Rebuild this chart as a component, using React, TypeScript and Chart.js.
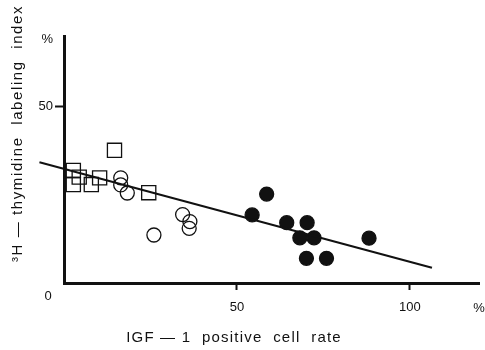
import React, { useEffect, useRef } from 'react';
import { Chart, registerables } from 'chart.js';

Chart.register(...registerables);

// Tick labels
const xTickValues = [50, 100];
const xTickLabels = ['50', '100'];
const xUnitValue = 120;
const xUnitLabel = '%';
const yTickValues = [50, 69];
const yTickLabels = ['50', '%'];
const originLabel = '0';
const xTitle = 'IGF — 1  positive  cell  rate';
const yTitle = '³H — thymidine  labeling  index';

// Open squares
const squareX = [2.7, 4.4, 2.7, 7.9, 10.3, 14.6, 24.5];
const squareY = [31.9, 30.0, 27.9, 27.9, 29.8, 37.6, 25.6];

// Open circles
const openCircleX = [16.4, 16.4, 18.3, 26.0, 34.3, 36.4, 36.2];
const openCircleY = [29.8, 27.8, 25.5, 13.6, 19.4, 17.4, 15.5];

// Filled circles
const filledCircleX = [58.6, 54.4, 64.4, 70.3, 68.2, 72.3, 70.1, 75.9, 88.2];
const filledCircleY = [25.2, 19.3, 17.1, 17.1, 12.8, 12.8, 7.0, 7.0, 12.7];

// Regression line end points
const lineX = [-7.1, 106.4];
const lineY = [34.2, 4.3];

const FONT = '"Liberation Sans", Arial, sans-serif';
const INK = '#111';

const toPoints = (xs: number[], ys: number[]) => xs.map((x, i) => ({ x, y: ys[i] }));

const textPlugin = {
  id: 'extraTexts',
  afterDraw(chart: any) {
    const { ctx, chartArea } = chart;
    const xScale = chart.scales.x;
    ctx.save();
    ctx.fillStyle = INK;
    ctx.textAlign = 'center';
    ctx.textBaseline = 'middle';
    ctx.font = `13px ${FONT}`;
    ctx.fillText(originLabel, chartArea.left - 16, chartArea.bottom + 13);
    ctx.fillText(xUnitLabel, xScale.getPixelForValue(xUnitValue), chartArea.bottom + 25);
    ctx.font = `15px ${FONT}`;
    (ctx as any).letterSpacing = '1.2px';
    ctx.fillText(xTitle, 234, 338);
    ctx.translate(18, 133.5);
    ctx.rotate(-Math.PI / 2);
    (ctx as any).letterSpacing = '1.6px';
    ctx.fillText(yTitle, 0, 0);
    ctx.restore();
  },
};

export default function App() {
  const ref = useRef<HTMLCanvasElement | null>(null);

  useEffect(() => {
    if (!ref.current) return;
    const markerBase = {
      borderColor: INK,
      borderWidth: 1.3,
      clip: false as any,
      pointHoverRadius: 0,
    };
    const chart = new Chart(ref.current, {
      type: 'scatter',
      data: {
        datasets: [
          {
            ...markerBase,
            label: 'line',
            data: toPoints(lineX, lineY),
            showLine: true,
            borderWidth: 2,
            pointRadius: 0,
          } as any,
          {
            ...markerBase,
            label: 'squares',
            data: toPoints(squareX, squareY),
            pointStyle: 'rect',
            pointRadius: 10,
            backgroundColor: 'rgba(0,0,0,0)',
          },
          {
            ...markerBase,
            label: 'open circles',
            data: toPoints(openCircleX, openCircleY),
            pointStyle: 'circle',
            pointRadius: 7,
            backgroundColor: 'rgba(0,0,0,0)',
          },
          {
            ...markerBase,
            label: 'filled circles',
            data: toPoints(filledCircleX, filledCircleY),
            pointStyle: 'circle',
            pointRadius: 7,
            backgroundColor: INK,
          },
        ],
      },
      options: {
        animation: false,
        responsive: false,
        devicePixelRatio: 1,
        events: [],
        layout: { autoPadding: false, padding: { top: 36, right: 6, left: 0, bottom: 0 } },
        plugins: { legend: { display: false }, tooltip: { enabled: false } },
        scales: {
          x: {
            type: 'linear',
            min: 0,
            max: 120,
            afterBuildTicks: (s: any) => {
              s.ticks = xTickValues.map((v) => ({ value: v }));
            },
            afterFit: (s: any) => {
              s.height = 67;
            },
            grid: {
              drawOnChartArea: false,
              drawTicks: true,
              tickLength: 7,
              tickWidth: 2,
              tickColor: INK,
            },
            border: { display: true, color: INK, width: 3 },
            ticks: {
              autoSkip: false,
              maxRotation: 0,
              padding: 10,
              color: INK,
              font: { family: FONT, size: 13 },
              callback: (_v: any, i: number) => xTickLabels[i],
            },
          },
          y: {
            type: 'linear',
            min: 0,
            max: 70,
            afterBuildTicks: (s: any) => {
              s.ticks = yTickValues.map((v) => ({ value: v }));
            },
            afterFit: (s: any) => {
              s.width = 64;
            },
            grid: {
              drawOnChartArea: false,
              drawTicks: true,
              tickLength: 9,
              tickWidth: 2,
              tickColor: (c: any) => (c.tick && c.tick.value === 50 ? INK : 'rgba(0,0,0,0)'),
            },
            border: { display: true, color: INK, width: 3 },
            ticks: {
              autoSkip: false,
              padding: 2,
              color: INK,
              font: { family: FONT, size: 13 },
              callback: (_v: any, i: number) => yTickLabels[i],
            },
          },
        },
      },
      plugins: [textPlugin],
    });
    return () => chart.destroy();
  }, []);

  return (
    <div style={{ position: 'fixed', left: 0, top: 0, width: 485, height: 350, background: '#fff' }}>
      <canvas ref={ref} width={485} height={350} style={{ display: 'block' }} />
    </div>
  );
}
